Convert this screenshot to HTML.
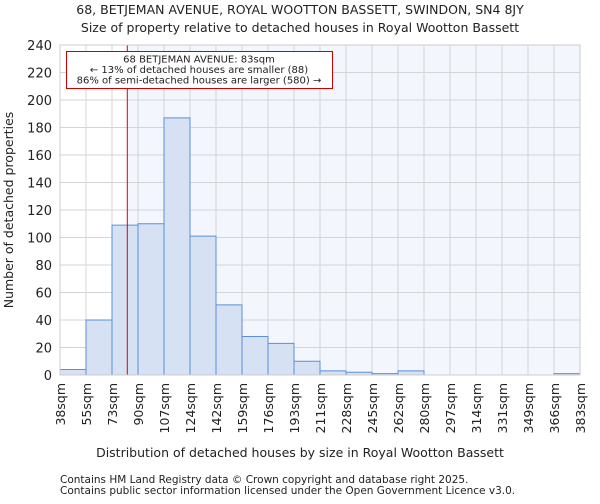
<!DOCTYPE html>
<html><head><meta charset="utf-8"><style>
body{margin:0;background:#fff;font-family:"DejaVu Sans","Liberation Sans",sans-serif;}
svg text{font-family:"DejaVu Sans","Liberation Sans",sans-serif;fill:#222;}
</style></head><body>
<svg id="c" width="600" height="500" viewBox="0 0 600 500">
<text x="300" y="14" font-size="12.5" text-anchor="middle">68, BETJEMAN AVENUE, ROYAL WOOTTON BASSETT, SWINDON, SN4 8JY</text>
<text x="300" y="32" font-size="12.5" text-anchor="middle">Size of property relative to detached houses in Royal Wootton Bassett</text>
<g id="plot"></g>
<text x="300" y="457" font-size="12.5" text-anchor="middle">Distribution of detached houses by size in Royal Wootton Bassett</text>
<text transform="translate(13,210) rotate(-90)" font-size="12.5" text-anchor="middle">Number of detached properties</text>
<text x="60" y="483" font-size="10.5">Contains HM Land Registry data © Crown copyright and database right 2025.</text>
<text x="60" y="494" font-size="10.5">Contains public sector information licensed under the Open Government Licence v3.0.</text>
</svg>
<script>
const binLabels=["38sqm","55sqm","73sqm","90sqm","107sqm","124sqm","142sqm","159sqm","176sqm","193sqm","211sqm","228sqm","245sqm","262sqm","280sqm","297sqm","314sqm","331sqm","349sqm","366sqm","383sqm"];
const binEdges=[38,55,73,90,107,124,142,159,176,193,211,228,245,262,280,297,314,331,349,366,383];
const counts=[4,40,109,110,187,101,51,28,23,10,3,2,1,3,0,0,0,0,0,1];
const yTicks=[0,20,40,60,80,100,120,140,160,180,200,220,240];
const markerValue=83;
const NS="http://www.w3.org/2000/svg";
const L=60,R=580,T=45,B=375,yMax=240;
const xi=i=>L+(R-L)*i/counts.length;
const xv=v=>{for(let i=0;i<binEdges.length-1;i++){if(v<=binEdges[i+1])return xi(i)+(v-binEdges[i])/(binEdges[i+1]-binEdges[i])*(xi(i+1)-xi(i));}return R;};
const y=v=>B-(B-T)*v/yMax;
const g=document.getElementById('plot');
function mk(t,a){const e=document.createElementNS(NS,t);for(const k in a)e.setAttribute(k,a[k]);g.appendChild(e);return e;}
const mx=xv(markerValue);
let e=mk('rect',{x:mx,y:T,width:R-mx,height:B-T,fill:'#f3f6fd'});


yTicks.forEach(t=>{let l=mk('line',{x1:L,x2:R,y1:y(t),y2:y(t),stroke:'#d4d4d4','stroke-width':1});


let tx=mk('text',{x:L-8,y:y(t)+5,'font-size':13,'text-anchor':'end'});tx.textContent=t;

});
binLabels.forEach((s,i)=>{let l=mk('line',{x1:xi(i),x2:xi(i),y1:T,y2:B,stroke:'#d4d4d4','stroke-width':1});


let tx=mk('text',{transform:`translate(${xi(i)+5},383) rotate(-90)`,'font-size':12.5,'text-anchor':'end'});tx.textContent=s;

});
counts.forEach((c,i)=>{if(c<=0)return;let r=mk('rect',{x:xi(i),y:y(c),width:xi(i+1)-xi(i),height:B-y(c),fill:'#d6e1f3',stroke:'#5b8fd9','stroke-width':1});

});
e=mk('line',{x1:mx,x2:mx,y1:T,y2:B,stroke:'#dd0000','stroke-width':1});


e=mk('rect',{x:L,y:T,width:R-L,height:B-T,fill:'none',stroke:'#ccc'});


e=mk('rect',{x:66.5,y:51.5,width:266,height:37,fill:'#fff',stroke:'#cc0000','stroke-width':1});


["68 BETJEMAN AVENUE: 83sqm","← 13% of detached houses are smaller (88)","86% of semi-detached houses are larger (580) →"].forEach((s,i)=>{let t=mk('text',{x:199,y:62.5+i*10.5,'font-size':10,'text-anchor':'middle'});t.textContent=s;

});
</script>
</body></html>
